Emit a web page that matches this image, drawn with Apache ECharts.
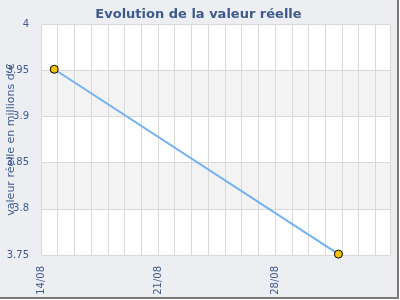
<!DOCTYPE html>
<html>
<head>
<meta charset="utf-8">
<script src="https://cdn.jsdelivr.net/npm/echarts@6/dist/echarts.min.js"></script>
<style>
html,body{margin:0;padding:0;background:#fff;}
#c{width:397px;height:297px;background:#eceef1;border-right:2px solid #7a7a7a;border-bottom:2px solid #7a7a7a;}
</style>
</head>
<body>
<div id="c"></div>
<script>
var axisStart = '2023-08-14T00:00:00Z';
var axisEnd = '2023-09-03T21:00:00Z';
var dates = ['2023-08-14T19:00:00Z', '2023-08-31T19:00:00Z'];
var values = [3.951, 3.751];
var yTicks = [3.75, 3.8, 3.85, 3.9, 3.95, 4];
var xTickLabels = ['14/08', '21/08', '28/08'];

var DAY = 86400000;
var t0 = Date.parse(axisStart);
function off(s){ return (Date.parse(s) - t0) / DAY; }
var data = dates.map(function(d, i){ return [off(d), values[i]]; });
var textColor = '#3e5a8a';
var chart = echarts.init(document.getElementById('c'));
chart.setOption({
  animation: false,
  title: {
    text: 'Evolution de la valeur réelle',
    left: 'center', top: 3,
    textStyle: {fontFamily: 'DejaVu Sans', fontSize: 13, fontWeight: 'bold', color: textColor}
  },
  grid: {left: 41, right: 7, top: 24, bottom: 42, containLabel: false, outerBoundsMode: 'none'},
  xAxis: {
    type: 'value', min: 0, max: off(axisEnd), interval: 1,
    axisLine: {show: false}, axisTick: {show: false},
    splitLine: {show: true, lineStyle: {color: '#d9d9d9', width: 1}},
    axisLabel: {
      rotate: 90, margin: 11, fontFamily: 'DejaVu Sans', fontSize: 10, color: textColor,
      showMaxLabel: false, hideOverlap: false,
      formatter: function(v){
        if (Math.abs(v - Math.round(v)) > 1e-6) return '';
        var k = Math.round(v);
        return (k % 7 === 0 && xTickLabels[k / 7]) ? xTickLabels[k / 7] : '';
      }
    }
  },
  yAxis: {
    type: 'value', min: yTicks[0], max: yTicks[yTicks.length - 1], interval: 0.05,
    name: "valeur réelle en millions d'€", nameLocation: 'middle', nameGap: 24,
    nameMoveOverlap: false,
    nameTextStyle: {fontFamily: 'DejaVu Sans', fontSize: 11, color: textColor},
    axisLine: {show: false}, axisTick: {show: false},
    splitLine: {show: true, lineStyle: {color: '#d9d9d9', width: 1}},
    splitArea: {show: true, areaStyle: {color: ['#ffffff', '#f3f3f3']}},
    axisLabel: {
      margin: 12, fontFamily: 'DejaVu Sans', fontSize: 10, color: textColor,
      formatter: function(v){ return String(Math.round(v * 100) / 100); }
    }
  },
  series: [{
    type: 'line', data: data,
    lineStyle: {color: '#74b1f0', width: 2},
    symbol: 'circle', symbolSize: 8,
    itemStyle: {color: '#f5c400', borderColor: '#000', borderWidth: 1}
  }]
});
</script>
</body>
</html>
